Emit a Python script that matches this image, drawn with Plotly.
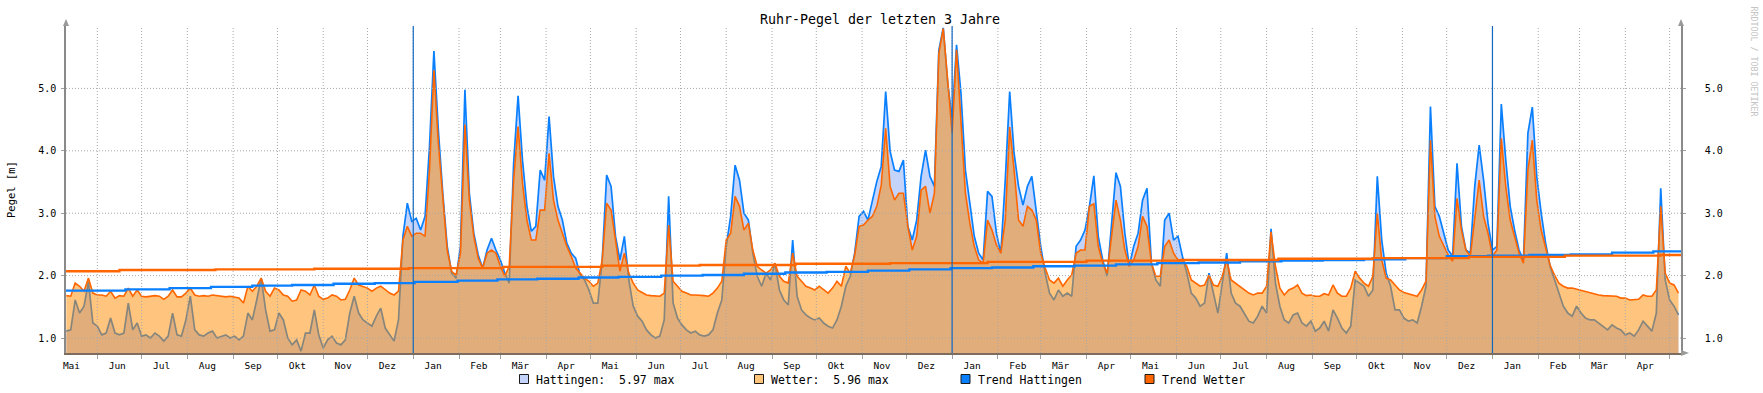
import plotly.graph_objects as go
import pandas as pd

# ---------------- data ----------------
TITLE = "Ruhr-Pegel der letzten 3 Jahre"
START = "2022-05-11"          # first sample, one value every 3 days
STEP = "3D"

HATTINGEN = [
    1.11, 1.13, 1.61, 1.40, 1.51, 1.90, 1.24, 1.19, 1.05, 1.08,
    1.32, 1.08, 1.05, 1.08, 1.56, 1.13, 1.24, 1.03, 1.05, 1.00,
    1.08, 1.03, 0.95, 1.03, 1.40, 1.05, 1.03, 1.29, 1.67, 1.13,
    1.05, 1.03, 1.08, 1.11, 1.00, 1.03, 1.05, 1.00, 1.03, 0.97,
    1.03, 1.40, 1.29, 1.61, 1.96, 1.45, 1.11, 1.13, 1.40, 1.29,
    1.00, 0.89, 0.97, 0.79, 1.08, 1.08, 1.45, 1.05, 0.84, 0.97,
    1.03, 0.92, 0.89, 0.97, 1.40, 1.67, 1.40, 1.29, 1.24, 1.19,
    1.35, 1.48, 1.16, 1.05, 0.95, 1.29, 2.63, 3.16, 2.87, 2.92,
    2.73, 2.95, 4.07, 5.60, 4.33, 3.32, 2.47, 2.04, 1.96, 2.47,
    4.98, 3.32, 2.68, 2.33, 2.12, 2.41, 2.60, 2.41, 2.25, 2.04,
    1.88, 3.80, 4.88, 3.85, 3.11, 2.71, 2.79, 3.69, 3.53, 4.55,
    3.59, 3.11, 2.89, 2.52, 2.36, 2.28, 2.01, 1.93, 1.77, 1.56,
    1.56, 2.25, 3.61, 3.43, 2.63, 2.25, 2.63, 1.93, 1.51, 1.35,
    1.27, 1.13, 1.05, 1.00, 1.03, 1.29, 3.27, 1.56, 1.32, 1.21,
    1.13, 1.08, 1.11, 1.05, 1.03, 1.05, 1.13, 1.40, 1.61, 2.47,
    2.95, 3.77, 3.53, 3.00, 2.89, 2.36, 1.99, 1.83, 2.04, 1.93,
    2.20, 1.77, 1.61, 1.53, 2.57, 1.67, 1.45, 1.37, 1.32, 1.29,
    1.32, 1.24, 1.19, 1.16, 1.29, 1.51, 1.83, 1.99, 2.36, 2.95,
    3.03, 2.89, 3.21, 3.51, 3.75, 4.95, 3.99, 3.69, 3.67, 3.85,
    2.79, 2.57, 2.89, 3.59, 4.01, 3.59, 3.43, 5.61, 5.97, 5.08,
    4.52, 5.70, 4.92, 3.69, 3.16, 2.63, 2.36, 2.25, 3.35, 3.27,
    2.68, 2.36, 3.53, 4.95, 3.96, 3.43, 3.13, 3.43, 3.59, 3.00,
    2.47, 2.04, 1.72, 1.61, 1.77, 1.67, 1.72, 1.67, 2.47, 2.57,
    2.73, 3.11, 3.60, 2.63, 2.25, 1.99, 2.89, 3.65, 3.43, 2.68,
    2.15, 2.47, 2.68, 3.21, 3.40, 2.20, 1.93, 1.83, 2.89, 3.00,
    2.57, 2.63, 2.31, 2.04, 1.72, 1.64, 1.51, 1.56, 2.04, 1.72,
    1.40, 1.88, 2.36, 1.72, 1.56, 1.51, 1.40, 1.27, 1.24, 1.35,
    1.51, 1.40, 2.75, 1.88, 1.51, 1.29, 1.24, 1.37, 1.40, 1.24,
    1.19, 1.27, 1.11, 1.16, 1.27, 1.11, 1.45, 1.32, 1.16, 1.08,
    1.19, 1.93, 1.88, 1.83, 1.67, 1.77, 3.59, 2.57, 2.04, 1.83,
    1.45, 1.45, 1.32, 1.27, 1.29, 1.24, 1.51, 1.83, 4.71, 3.11,
    2.95, 2.68, 2.41, 2.31, 3.80, 2.79, 2.41, 2.36, 3.43, 4.09,
    3.53, 2.84, 2.41, 2.47, 4.75, 3.85, 3.11, 2.73, 2.41, 2.25,
    4.28, 4.70, 3.59, 3.00, 2.52, 2.15, 1.93, 1.72, 1.51, 1.40,
    1.35, 1.51, 1.40, 1.32, 1.29, 1.29, 1.24, 1.19, 1.13, 1.21,
    1.16, 1.13, 1.05, 1.08, 1.03, 1.13, 1.27, 1.19, 1.11, 1.40,
    3.40, 1.93, 1.61, 1.51, 1.37,
]

WETTER = [
    1.68, 1.67, 1.88, 1.83, 1.75, 1.96, 1.72, 1.69, 1.69, 1.67,
    1.75, 1.64, 1.68, 1.67, 1.80, 1.67, 1.77, 1.67, 1.66, 1.67,
    1.68, 1.67, 1.62, 1.67, 1.77, 1.66, 1.66, 1.72, 1.80, 1.69,
    1.67, 1.68, 1.67, 1.69, 1.68, 1.67, 1.66, 1.67, 1.66, 1.64,
    1.56, 1.83, 1.75, 1.83, 1.96, 1.75, 1.67, 1.80, 1.77, 1.69,
    1.67, 1.59, 1.61, 1.77, 1.75, 1.69, 1.85, 1.67, 1.62, 1.64,
    1.69, 1.67, 1.61, 1.62, 1.77, 1.96, 1.85, 1.83, 1.80, 1.75,
    1.80, 1.83, 1.77, 1.72, 1.69, 1.75, 2.57, 2.79, 2.63, 2.68,
    2.68, 2.63, 3.69, 5.29, 4.12, 3.21, 2.41, 2.07, 2.01, 2.36,
    4.42, 3.21, 2.63, 2.28, 2.12, 2.36, 2.41, 2.36, 2.15, 1.99,
    2.15, 3.53, 4.39, 3.48, 2.89, 2.57, 2.57, 3.05, 3.05, 3.96,
    3.21, 2.89, 2.68, 2.47, 2.31, 2.12, 2.04, 1.96, 1.91, 1.83,
    1.88, 2.25, 3.16, 3.05, 2.57, 2.07, 2.36, 2.04, 1.88, 1.77,
    1.73, 1.69, 1.68, 1.67, 1.67, 1.72, 2.81, 1.91, 1.83, 1.75,
    1.72, 1.69, 1.69, 1.69, 1.68, 1.67, 1.72, 1.80, 1.91, 2.57,
    2.68, 3.27, 3.11, 2.73, 2.84, 2.41, 2.15, 2.09, 2.04, 2.09,
    2.20, 1.99, 1.91, 1.88, 2.36, 1.99, 1.91, 1.83, 1.80, 1.77,
    1.83, 1.77, 1.72, 1.80, 1.91, 1.83, 2.15, 2.04, 2.33, 2.79,
    2.81, 2.89, 2.95, 3.11, 3.45, 4.36, 3.43, 3.21, 3.32, 3.32,
    2.79, 2.41, 2.63, 3.37, 3.43, 3.00, 3.32, 5.56, 5.96, 5.13,
    4.28, 5.62, 4.49, 3.32, 2.84, 2.47, 2.25, 2.20, 2.89, 2.73,
    2.49, 2.36, 2.89, 4.38, 3.69, 2.89, 2.79, 3.11, 3.05, 2.89,
    2.36, 2.12, 1.93, 1.88, 1.96, 1.83, 1.93, 2.01, 2.36, 2.41,
    2.41, 3.11, 3.15, 2.47, 2.20, 2.04, 2.63, 3.21, 2.89, 2.41,
    2.15, 2.25, 2.47, 2.95, 2.79, 2.20, 1.99, 1.99, 2.47, 2.57,
    2.36, 2.25, 2.26, 2.15, 1.93, 1.88, 1.83, 1.85, 2.01, 1.85,
    1.83, 1.99, 2.25, 1.93, 1.88, 1.83, 1.77, 1.72, 1.69, 1.72,
    1.72, 1.83, 2.70, 2.15, 1.80, 1.69, 1.77, 1.80, 1.85, 1.72,
    1.68, 1.69, 1.67, 1.67, 1.71, 1.69, 1.85, 1.72, 1.67, 1.67,
    1.80, 2.07, 1.96, 1.88, 1.83, 1.99, 3.00, 2.25, 1.96, 1.93,
    1.85, 1.77, 1.73, 1.71, 1.68, 1.67, 1.77, 1.91, 4.17, 2.95,
    2.63, 2.47, 2.33, 2.23, 3.24, 2.73, 2.41, 2.31, 2.95, 3.53,
    2.95, 2.68, 2.31, 2.41, 4.20, 3.43, 2.89, 2.63, 2.36, 2.20,
    3.69, 4.17, 3.21, 2.73, 2.47, 2.17, 2.01, 1.88, 1.83, 1.80,
    1.80, 1.78, 1.76, 1.75, 1.73, 1.71, 1.69, 1.68, 1.68, 1.68,
    1.67, 1.64, 1.64, 1.61, 1.61, 1.62, 1.69, 1.67, 1.67, 1.77,
    3.11, 2.04, 1.88, 1.85, 1.72,
]

TREND_H_DATES = [
    "2022-05-10", "2022-06-20", "2022-07-20", "2022-08-17", "2022-09-14",
    "2022-10-11", "2022-11-08", "2022-12-06", "2023-01-02", "2023-01-31",
    "2023-02-27", "2023-03-26", "2023-04-23", "2023-05-20", "2023-06-18",
    "2023-07-16", "2023-08-13", "2023-09-10", "2023-10-08", "2023-11-05",
    "2023-12-03", "2023-12-31", "2024-01-28", "2024-02-25", "2024-03-24",
    "2024-04-21", "2024-05-19", "2024-06-16", "2024-07-14", "2024-08-11",
    "2024-09-08", "2024-10-06", "2024-11-03", "2024-12-01", "2024-12-29",
    "2025-01-26", "2025-02-23", "2025-03-23", "2025-04-20", "2025-05-09",
]
TREND_H = [
    1.76, 1.78, 1.80, 1.82, 1.84, 1.85, 1.87, 1.88, 1.90, 1.92,
    1.94, 1.95, 1.97, 1.98, 2.00, 2.01, 2.03, 2.05, 2.06, 2.08,
    2.10, 2.12, 2.13, 2.15, 2.16, 2.18, 2.20, 2.21, 2.23, 2.24,
    2.25, 2.26, 2.28, 2.31, 2.32, 2.33, 2.34, 2.37, 2.39, 2.39,
]

TREND_W_DATES = [
    "2022-05-10", "2022-06-16", "2022-08-20", "2022-10-26", "2022-12-29",
    "2023-03-03", "2023-05-09", "2023-07-14", "2023-09-17", "2023-11-20",
    "2024-01-25", "2024-04-01", "2024-06-05", "2024-08-09", "2024-10-12",
    "2024-12-16", "2025-02-19", "2025-04-25", "2025-05-09",
]
TREND_W = [
    2.07, 2.09, 2.10, 2.11, 2.12, 2.14, 2.16, 2.17, 2.19, 2.20,
    2.22, 2.24, 2.25, 2.27, 2.28, 2.30, 2.32, 2.33, 2.33,
]

YEAR_MARKS = ["2023-01-01", "2024-01-01", "2025-01-01"]
MONTHS_DE = ["Jan", "Feb", "Mär", "Apr", "Mai", "Jun",
             "Jul", "Aug", "Sep", "Okt", "Nov", "Dez"]
Y_TICKS = [1, 2, 3, 4, 5]
LEGEND_LABELS = ["Hattingen:\u00a0\u00a05.97 max", "Wetter:\u00a0\u00a05.96 max",
                 "Trend Hattingen", "Trend Wetter"]
X_RANGE = ["2022-05-10 19:00", "2025-05-08 17:00"]
Y_RANGE = [0.76, 6.0]

# ---------------- styling ----------------
FONT = "DejaVu Sans Mono"
C_H_LINE = "#0a80ff"
C_H_FILL = "#c3d3fa"
C_W_LINE = "#ff6600"
C_W_FILL = "rgba(255,140,0,0.51)"
C_W_SWATCH = "#ffc57a"
C_GRID = "#a8a8a8"
C_VRULE = "#1169c0"

W, H = 1763, 393
PX_L, PX_R, PX_T, PX_B = 66, 1681, 26, 353


def px_x(px):
    return (px - PX_L) / (PX_R - PX_L)


def px_y(py):
    return (PX_B - py) / (PX_B - PX_T)


dates = pd.date_range(START, periods=len(HATTINGEN), freq=STEP)

fig = go.Figure()

fig.add_trace(go.Scatter(
    x=dates, y=HATTINGEN, mode="lines", fill="tozeroy",
    fillcolor=C_H_FILL, line=dict(color=C_H_LINE, width=1.7),
    hoverinfo="skip", showlegend=False))

fig.add_trace(go.Scatter(
    x=dates, y=WETTER, mode="lines", fill="tozeroy",
    fillcolor=C_W_FILL, line=dict(color=C_W_LINE, width=1.6),
    hoverinfo="skip", showlegend=False))

# dotted grid drawn above the areas (as in the rrdtool image)
month_starts = pd.date_range("2022-06-01", "2025-05-01", freq="MS")
gx, gy = [], []
for d in month_starts:
    gx += [d, d, None]
    gy += [Y_RANGE[0], Y_RANGE[1], None]
for v in Y_TICKS:
    gx += [X_RANGE[0], X_RANGE[1], None]
    gy += [v, v, None]
fig.add_trace(go.Scatter(
    x=gx, y=gy, mode="lines", line=dict(color=C_GRID, width=1, dash="1px,2px"),
    hoverinfo="skip", showlegend=False))

fig.add_trace(go.Scatter(
    x=pd.to_datetime(TREND_H_DATES), y=TREND_H, mode="lines",
    line=dict(color=C_H_LINE, width=2.3, shape="hv"),
    hoverinfo="skip", showlegend=False))
fig.add_trace(go.Scatter(
    x=pd.to_datetime(TREND_W_DATES), y=TREND_W, mode="lines",
    line=dict(color=C_W_LINE, width=2.3, shape="hv"), yaxis="y2",
    hoverinfo="skip", showlegend=False))

shapes = []
for d in YEAR_MARKS:
    shapes.append(dict(type="line", xref="x", yref="paper", x0=d, x1=d,
                       y0=0, y1=1, line=dict(color=C_VRULE, width=1.2)))

# axis arrows
def tri(points):
    return "M " + " L ".join(f"{px_x(a)},{px_y(b)}" for a, b in points) + " Z"

for path in [tri([(63, 26), (69, 26), (66, 19)]),
             tri([(1678, 26), (1684, 26), (1681, 19)]),
             tri([(1681, 350), (1681, 356), (1689, 353)])]:
    shapes.append(dict(type="path", xref="paper", yref="paper", path=path,
                       fillcolor="#9a9a9a", line=dict(width=0)))

# custom legend (squares with dark border)
legend_sw = [(519.5, C_H_FILL), (754.5, C_W_SWATCH), (961, C_H_LINE), (1145, C_W_LINE)]
legend_tx = [534, 768.5, 976, 1160]
annotations = []
for (sx, col), tx, lab in zip(legend_sw, legend_tx, LEGEND_LABELS):
    shapes.append(dict(type="rect", xref="paper", yref="paper",
                       x0=px_x(sx), x1=px_x(sx + 9), y0=px_y(383.5), y1=px_y(374.5),
                       fillcolor=col, line=dict(color="#1a1a1a", width=1)))
    annotations.append(dict(xref="paper", yref="paper", x=px_x(tx), y=px_y(379.5),
                            xanchor="left", yanchor="middle", showarrow=False,
                            text=lab, font=dict(family=FONT, size=11.5, color="#000")))

annotations.append(dict(xref="paper", yref="paper", x=px_x(11), y=px_y(190),
                        text="Pegel [m]", textangle=-90, showarrow=False,
                        xanchor="center", yanchor="middle",
                        font=dict(family=FONT, size=10.5, color="#000")))
annotations.append(dict(xref="paper", yref="paper", x=px_x(1753.5), y=px_y(4),
                        text="RRDTOOL / TOBI OETIKER", textangle=90, showarrow=False,
                        xanchor="center", yanchor="top",
                        font=dict(family=FONT, size=8.3, color="#c4c4c4")))

tick_pos = [d + pd.Timedelta(hours=13 * 24 + 12)
            for d in pd.date_range("2022-05-01", "2025-05-01", freq="MS")]
tick_txt = [MONTHS_DE[d.month - 1] for d in tick_pos]

fig.update_layout(
    width=W, height=H,
    margin=dict(l=PX_L, r=W - PX_R, t=PX_T, b=H - PX_B, pad=0),
    paper_bgcolor="white", plot_bgcolor="white",
    font=dict(family=FONT, color="#000"),
    title=dict(text=TITLE, x=880 / W, xref="container", xanchor="center",
               y=1 - 19 / H, yref="container", yanchor="middle",
               font=dict(family=FONT, size=13.3, color="#000")),
    shapes=shapes, annotations=annotations, showlegend=False,
    xaxis=dict(type="date", range=X_RANGE, tickvals=tick_pos, ticktext=tick_txt,
               ticks="", showgrid=False, zeroline=False,
               showline=True, linecolor="#7d6d5e", linewidth=1.5,
               tickfont=dict(family=FONT, size=9.5, color="#000"),
               ticklabelstandoff=3,
               minor=dict(tick0="2022-06-01", dtick="M1", ticks="outside",
                          ticklen=4, tickcolor="#a0a0a0", showgrid=False)),
    yaxis=dict(range=Y_RANGE, tickvals=Y_TICKS, tickformat=".1f",
               showgrid=False, zeroline=False, ticks="outside", ticklen=3,
               tickcolor="#a0a0a0", showline=True, linecolor="#8a8a8a",
               linewidth=1.5, tickfont=dict(family=FONT, size=10, color="#000"),
               ticklabelstandoff=3),
    yaxis2=dict(range=Y_RANGE, matches="y", overlaying="y", side="right",
                tickvals=Y_TICKS, tickformat=".1f", showgrid=False,
                zeroline=False, ticks="outside", ticklen=3, tickcolor="#a0a0a0",
                showline=True, linecolor="#8a8a8a", linewidth=1.5,
                tickfont=dict(family=FONT, size=10, color="#000"),
                ticklabelstandoff=17),
)

fig.write_html("out.html", config={"displayModeBar": False},
               post_script="document.body.style.margin='0';"
                           "document.body.style.overflow='hidden';")
